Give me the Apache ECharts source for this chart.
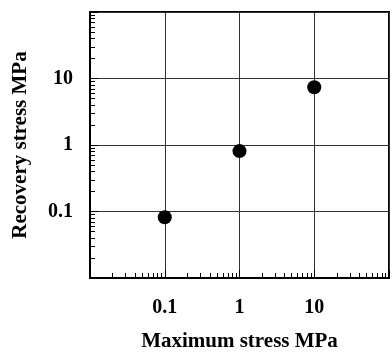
<!DOCTYPE html>
<html>
<head>
<meta charset="utf-8">
<script src="https://cdn.jsdelivr.net/npm/echarts@6/dist/echarts.min.js"></script>
<style>
  html, body { margin: 0; padding: 0; background: #fff; }
  #chart { width: 392px; height: 357px; }
</style>
</head>
<body>
<div id="chart"></div>
<script>
// maximum stress (MPa) vs recovery stress (MPa)
const maxStress = [0.1, 1, 10];
const recoveryStress = [0.082, 0.81, 7.4];
const tickLabels = ["0.1", "1", "10"];

const FONT = "'Liberation Serif', 'Times New Roman', serif";

function labelFor(v) {
  const s = String(+Number(v).toPrecision(3));
  return tickLabels.indexOf(s) >= 0 ? s : "";
}

const chart = echarts.init(document.getElementById("chart"));

const axisCommon = {
  type: "log",
  logBase: 10,
  min: 0.01,
  max: 100,
  axisLine: { show: true, lineStyle: { color: "#000", width: 2 } },
  axisTick: { show: true, inside: true, length: 8, lineStyle: { color: "#000", width: 1 } },
  minorTick: { show: true, splitNumber: 9, length: 5, lineStyle: { color: "#000", width: 1 } },
  splitLine: { show: true, lineStyle: { color: "#333", width: 1 } },
  minorSplitLine: { show: false },
  axisLabel: {
    formatter: labelFor,
    color: "#000",
    fontFamily: FONT,
    fontWeight: "bold",
    fontSize: 20
  },
  nameLocation: "middle",
  nameTextStyle: { color: "#000", fontFamily: FONT, fontWeight: "bold", fontSize: 21 }
};

const options = {
  animation: false,
  grid: {
    left: 90,
    top: 12,
    width: 304,
    height: 271,
    show: true,
    borderColor: "#000",
    borderWidth: 2,
    containLabel: false
  },
  xAxis: Object.assign({}, axisCommon, {
    name: "Maximum stress MPa",
    nameGap: 53,
    axisLabel: Object.assign({}, axisCommon.axisLabel, { margin: 20 })
  }),
  yAxis: Object.assign({}, axisCommon, {
    name: "Recovery stress MPa",
    nameGap: 59,
    axisLabel: Object.assign({}, axisCommon.axisLabel, { margin: 17 })
  }),
  series: [
    {
      type: "scatter",
      symbol: "circle",
      symbolSize: 14,
      itemStyle: { color: "#000", opacity: 1 },
      data: maxStress.map((x, i) => [x, recoveryStress[i]])
    }
  ]
};

chart.setOption(options);
</script>
</body>
</html>
